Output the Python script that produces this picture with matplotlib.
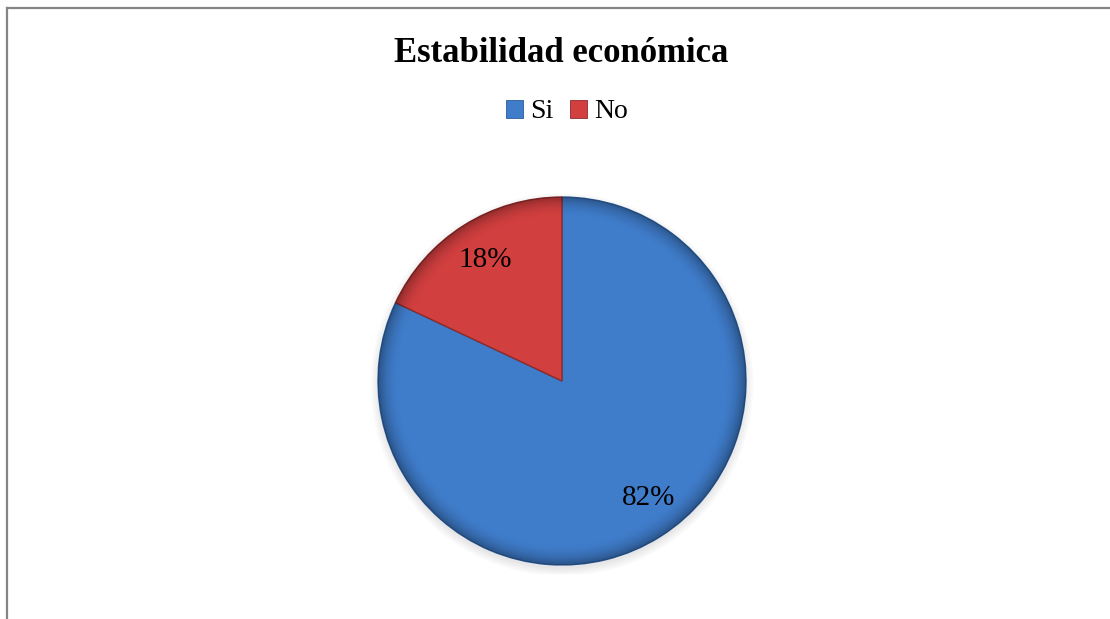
import numpy as np
import matplotlib
matplotlib.use('Agg')
from matplotlib import pyplot as plt
from matplotlib.patches import Patch, Circle
from matplotlib.lines import Line2D

plt.rcParams['font.family'] = ['Liberation Serif', 'DejaVu Serif']

title = 'Estabilidad económica'
labels = ['Si', 'No']
values = [82, 18]
colors = ['#3f7cca', '#d23f3f']
edges = ['#2c5d9a', '#8e2a2a']

W, H = 1110, 619
fig = plt.figure(figsize=(W / 100, H / 100), dpi=100)
fig.patch.set_facecolor('white')

# chart frame (only top and left edges show)
fig.add_artist(Line2D([7 / W, 1], [1 - 8 / H, 1 - 8 / H], transform=fig.transFigure,
                      color='#858585', lw=1.6))
fig.add_artist(Line2D([7 / W, 7 / W], [0, 1 - 8 / H], transform=fig.transFigure,
                      color='#858585', lw=1.6))

# pie centre and radius in pixels
cx, cy, r = 562, 381, 184
pad = 1.05
ax = fig.add_axes([(cx - pad * r) / W, (H - cy - pad * r) / H,
                   2 * pad * r / W, 2 * pad * r / H])
ax.axis('off')

# soft shadow under the pie
for k in range(5):
    ax.add_patch(Circle((0.0, -0.02), 1.0 + 0.01 * k, color='black',
                        alpha=0.02, lw=0, zorder=0))

wedges, texts, autotexts = ax.pie(
    values, colors=colors, startangle=90, counterclock=False, radius=1.0,
    autopct='%1.0f%%', pctdistance=0.78,
    wedgeprops=dict(linewidth=1.0),
    textprops=dict(fontsize=21, color='black'))
for w, e in zip(wedges, edges):
    w.set_edgecolor(e)
    w.set_zorder(1)

# bevel-like darkening towards the rim
n = 300
xx, yy = np.meshgrid(np.linspace(-1, 1, n), np.linspace(-1, 1, n))
rr = np.hypot(xx, yy)
alpha = np.clip((rr - 0.88) / 0.12, 0, 1) ** 2.2 * 0.32
shade = np.zeros((n, n, 4))
shade[..., 3] = alpha
im = ax.imshow(shade, extent=(-1, 1, -1, 1), origin='lower', zorder=2,
               interpolation='bilinear')
im.set_clip_path(Circle((0, 0), 1.0, transform=ax.transData))

for t in autotexts:
    t.set_zorder(3)
# Excel puts the big label a bit further round towards the right
x82, y82 = autotexts[0].get_position()
autotexts[0].set_position((x82 + 0.05, y82 + 0.02))

ax.set_xlim(-pad, pad)
ax.set_ylim(-pad, pad)
ax.set_aspect('equal')

fig.text(561 / W, 1 - 53 / H, title, ha='center', va='center',
         fontsize=25, fontweight='bold')

handles = [Patch(facecolor=c, edgecolor=e, lw=0.6) for c, e in zip(colors, edges)]
fig.legend(handles, labels, loc='center', bbox_to_anchor=(567 / W, 1 - 112 / H),
           ncol=2, frameon=False, fontsize=20, handlelength=0.6,
           handleheight=0.6, handletextpad=0.25, columnspacing=0.6)

fig.savefig('out.png', dpi=100)
